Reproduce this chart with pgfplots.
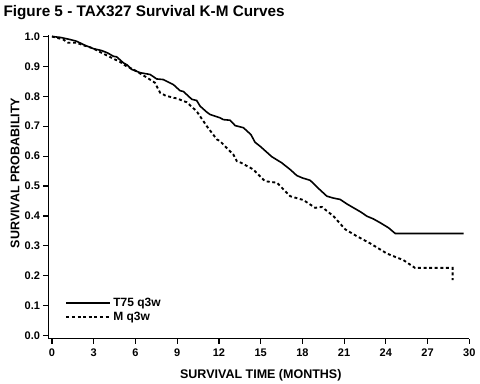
\documentclass[border=0pt]{standalone}
\usepackage{pgfplots}
\pgfplotsset{compat=1.18}
\usepackage{fontspec}
\setmainfont{Liberation Sans}
\usetikzlibrary{calc}
\begin{document}
\begin{tikzpicture}
\begin{axis}[name=ax, scale only axis, width=420.8pt, height=303.5pt,
  xmin=-0.25, xmax=30, ymin=-0.01, ymax=1.005,
  axis x line=bottom, axis y line=left,
  axis line style={line width=1.4pt, -},
  xtick={0,3,6,9,12,15,18,21,24,27,30},
  ytick={0,0.1,0.2,0.3,0.4,0.5,0.6,0.7,0.8,0.9,1.0},
  yticklabel style={/pgf/number format/.cd, fixed, fixed zerofill, precision=1},
  xticklabel style={yshift=-2pt},
  tick style={line width=1.2pt, black}, tick align=outside, major tick length=5pt,
  ticklabel style={font=\bfseries\fontsize{11}{12}\selectfont},
  /pgf/number format/assume math mode=true,
  clip=false,
  legend style={at={(axis cs:0.95,0.132)}, anchor=north west, draw=none, fill=none,
    font=\bfseries\fontsize{12}{13.5}\selectfont, row sep=0pt, inner sep=0pt,
    cells={anchor=west}},
  legend image code/.code={\draw[#1] (0pt,0pt) -- (44pt,0pt);},
]
\addplot[black, line width=1.6pt] coordinates {
(0,1.0) (0.6,0.997) (1.29,0.99) (1.78,0.984) (2.3,0.972) (2.73,0.964) (3.0,0.959)
(3.57,0.953) (4.0,0.945) (4.41,0.934) (4.65,0.932) (5.13,0.912) (5.4,0.905)
(5.73,0.890) (6.33,0.879) (7.05,0.873) (7.53,0.858) (8.0,0.856) (8.73,0.839)
(9.2,0.819) (9.45,0.816) (10.05,0.790) (10.4,0.786) (10.65,0.767) (11.13,0.747)
(11.37,0.739) (12.08,0.728) (12.32,0.722) (12.8,0.720) (13.17,0.702) (13.76,0.695)
(14.3,0.672) (14.6,0.646) (14.96,0.633) (15.8,0.598) (16.5,0.578) (17.1,0.556)
(17.6,0.535) (18.0,0.527) (18.56,0.519) (19.2,0.490) (19.76,0.466) (20.2,0.460)
(20.72,0.455) (21.2,0.440) (21.68,0.427) (22.2,0.413) (22.64,0.399) (23.1,0.390)
(23.6,0.377) (24.2,0.360) (24.68,0.341) (29.6,0.341)
};
\addlegendentry{T75 q3w}
\addplot[black, line width=1.9pt, dash pattern=on 3pt off 2.6pt] coordinates {
(0,1.0) (0.8,0.99) (1.17,0.979) (1.78,0.979) (2.3,0.970) (2.73,0.964) (3.0,0.959)
(3.93,0.937) (4.89,0.915) (5.3,0.902) (5.61,0.895) (5.85,0.890) (6.81,0.863)
(7.41,0.845) (7.77,0.812) (8.13,0.803) (8.73,0.795) (8.97,0.793) (9.69,0.780)
(10.4,0.750) (10.65,0.733) (11.13,0.700) (11.85,0.656) (12.08,0.650) (13.04,0.605)
(13.29,0.583) (13.5,0.580) (14.49,0.555) (14.7,0.544) (15.32,0.516) (16.17,0.511)
(17.12,0.466) (18.08,0.453) (18.92,0.427) (19.4,0.430) (20.24,0.399) (21.08,0.355)
(21.92,0.332) (22.88,0.308) (24.08,0.274) (25.27,0.252) (26.1,0.226) (28.8,0.226)
(28.8,0.185)
};
\addlegendentry{M q3w}
\end{axis}
\node[anchor=base west, inner sep=0pt, font=\bfseries\fontsize{15.3}{18}\selectfont]
  at ($(ax.south west)+(-45.2pt,321.8pt)$) {Figure 5 - TAX327 Survival K-M Curves};
\node[anchor=base, inner sep=0pt, rotate=90, font=\bfseries\fontsize{12.5}{14}\selectfont]
  at ($(ax.south west)+(-29.2pt,165.5pt)$) {SURVIVAL PROBABILITY};
\node[anchor=base, inner sep=0pt, font=\bfseries\fontsize{12.5}{14}\selectfont]
  at ($(ax.south west)+(212.3pt,-39.8pt)$) {SURVIVAL TIME (MONTHS)};
\pgfresetboundingbox
\path ($(ax.south west)+(-48.5pt,-44.5pt)$) rectangle ($(ax.north east)+(10.7pt,35pt)$);
\end{tikzpicture}
\end{document}
